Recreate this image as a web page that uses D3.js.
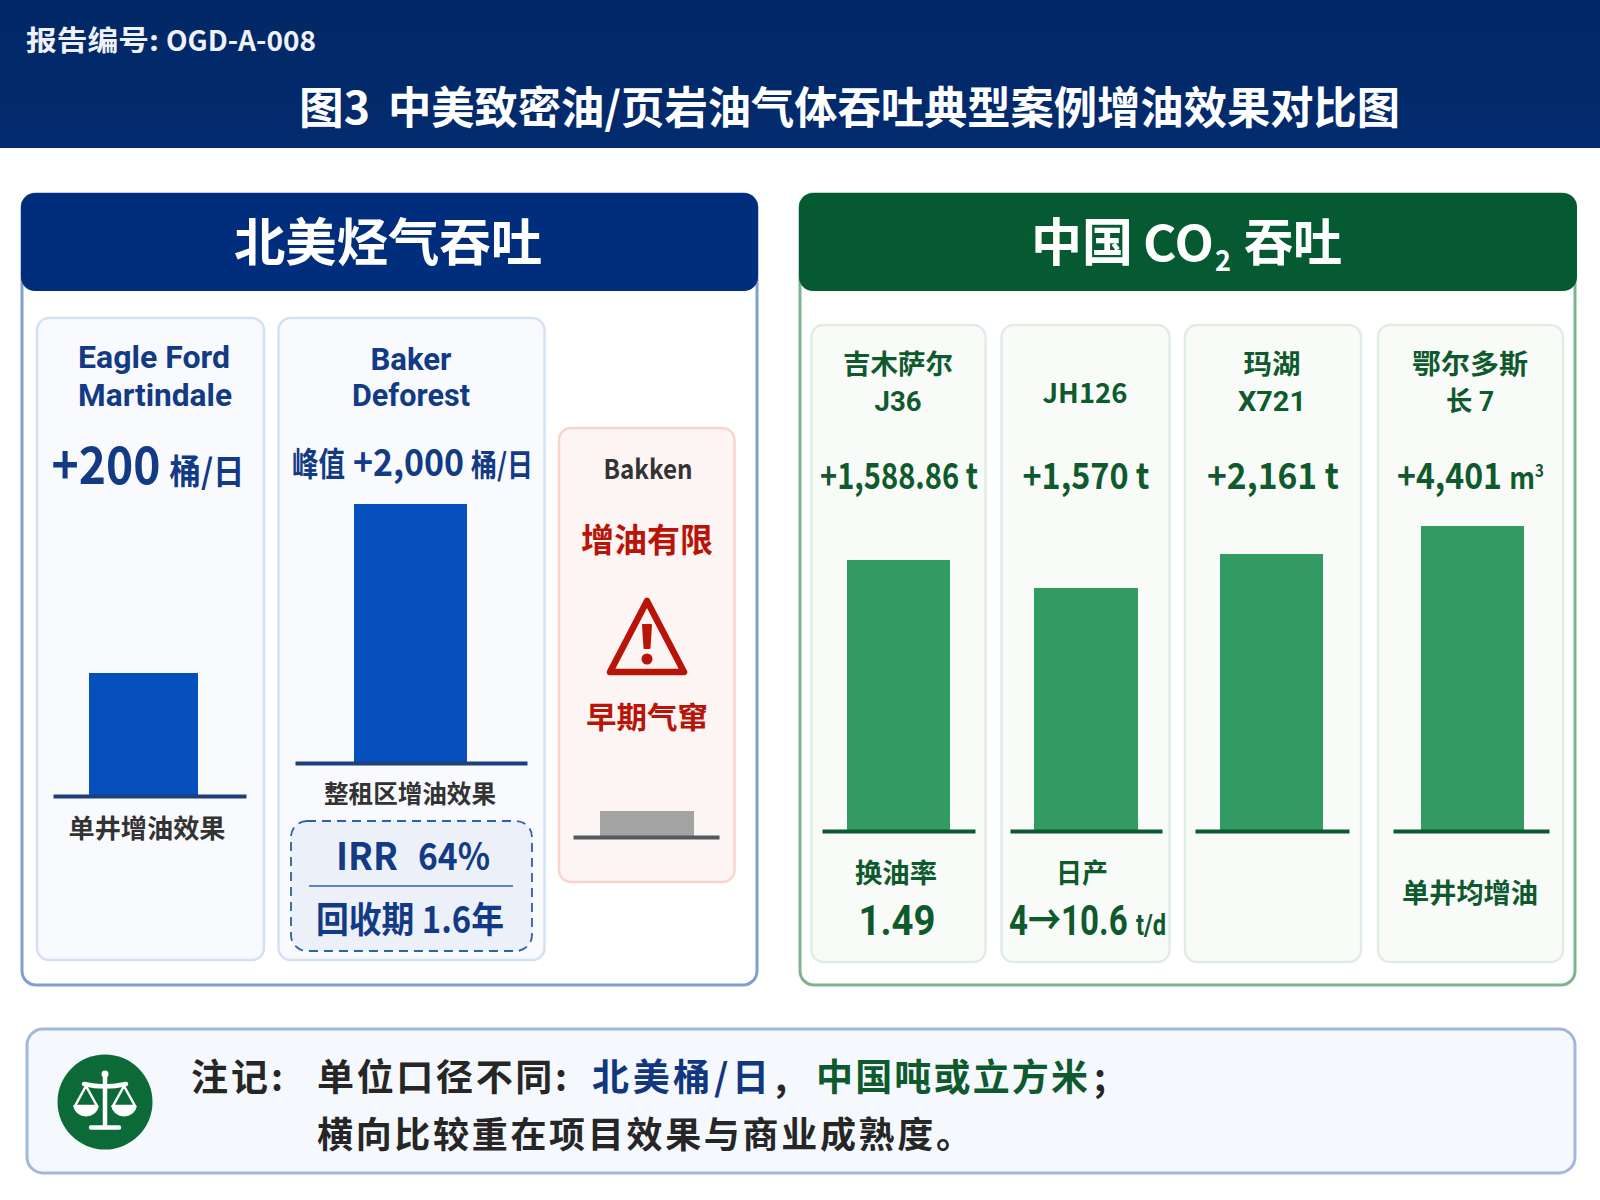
<!DOCTYPE html>
<html><head><meta charset="utf-8">
<script src="https://cdn.jsdelivr.net/npm/d3@7/dist/d3.min.js"></script>
<style>html,body{margin:0;padding:0;background:#fff}svg{display:block}text{font-family:"Noto Sans CJK SC","Noto Sans",sans-serif;font-weight:700}text.tight{font-family:Roboto,"Noto Sans CJK SC",sans-serif}</style>
</head><body><svg id="c" width="1600" height="1200"></svg>
<script>
// ---- data ----
const reportNo = ["报告编号:", "OGD-A-008"];
const chartTitle = ["图3", "中美致密油/页岩油气体吞吐典型案例增油效果对比图"];
const naCases = ["Eagle Ford Martindale", "Baker Deforest", "Bakken"];
const naLevels = [123, 259, 26];            // schematic bar heights
const cnCases = ["吉木萨尔 J36", "JH126", "玛湖 X721", "鄂尔多斯 长 7"];
const cnLevels = [271, 243, 277, 305];      // schematic bar heights
const cnValues = ["+1,588.86 t", "+1,570 t", "+2,161 t", "+4,401"];
const cnNotes = ["换油率", "日产", "", "单井均增油"];

// ---- layout (frames only) ----
const naFrames = [
 {card:[37,318,227,642],bar:[89,198],axis:[53,246],base:796,fill:"#0550bc",ax:"#1d3f7c"},
 {card:[278.5,318,266,642],bar:[354,467],axis:[295,527],base:763,fill:"#0550bc",ax:"#1d3f7c"},
 {card:[559,428,175.5,454],bar:[600,694],axis:[573,719],base:837,fill:"#a3a3a3",ax:"#555a5e"}];
const cnFrames = [
 {card:[811.5,325,174,637],bar:[847,950],axis:[822,975],base:831},
 {card:[1001.5,325,168,637],bar:[1034,1138],axis:[1010,1162],base:831},
 {card:[1185,325,176,637],bar:[1220,1323],axis:[1195,1349],base:831},
 {card:[1378,325,185,637],bar:[1421,1524],axis:[1393,1549],base:831}];

const svg = d3.select("#c");
const defs = svg.append("defs");
const lg = (id,a,b)=>{const g=defs.append("linearGradient").attr("id",id).attr("x1",0).attr("x2",0).attr("y1",0).attr("y2",1);
  g.append("stop").attr("offset",0).attr("stop-color",a);g.append("stop").attr("offset",1).attr("stop-color",b);};
lg("hd","#012766","#032c6e");
function T(g,x,y,s,size,fill,o={}){
  const e=g.append("text").attr("x",x).attr("y",y).attr("font-size",size).attr("fill",fill)
    .attr("text-anchor",o.a||"middle").text(s);
  if(o.tight) e.attr("class","tight");
  if(o.w){e.attr("textLength",o.w).attr("lengthAdjust",o.sp?"spacing":"spacingAndGlyphs");}
  return e;
}
function box(g,x,y,w,h,r,fill,stroke,sw){return g.append("rect").attr("x",x).attr("y",y).attr("width",w).attr("height",h).attr("rx",r).attr("fill",fill).attr("stroke",stroke||"none").attr("stroke-width",sw||0);}

svg.append("rect").attr("width",1600).attr("height",1200).attr("fill","#fff");
// header
svg.append("rect").attr("width",1600).attr("height",148).attr("fill","url(#hd)");
T(svg,26,51,reportNo[0],28,"#eef2f8",{a:"start",w:133});
T(svg,166,51,reportNo[1],28,"#eef2f8",{a:"start",w:150});
T(svg,299,124,chartTitle[0],44,"#fff",{a:"start",w:71});
T(svg,388,124,chartTitle[1],44,"#fff",{a:"start",w:1012});

// panels
box(svg,22,194,735,791,14,"#fff","#7f9fd2",3);
box(svg,800,194,775,791,14,"#fff","#7fb390",3);
box(svg,21,193,737,98,14,"#012e7c");
box(svg,799,193,778,98,14,"#055a31");
T(svg,388,261,"北美烃气吞吐",51,"#fff",{w:308});
const cnHead=svg.append("g");
T(cnHead,1031,261,"中国",51,"#fff",{a:"start",w:102});
T(cnHead,1143,261,"CO",48,"#fff",{a:"start",w:71});
T(cnHead,1215,271,"2",29,"#fff",{a:"start",w:16});
T(cnHead,1244,261,"吞吐",51,"#fff",{a:"start",w:98});

function miniChart(g,name,level,f,maxLevel){
  const h=320;
  const x=d3.scaleBand().domain([name]).range(f.bar).padding(0);
  const y=d3.scaleLinear().domain([0,maxLevel]).range([f.base,f.base-h]);
  g.append("rect").datum(level).attr("x",x(name)).attr("width",x.bandwidth())
    .attr("y",d=>y(d)).attr("height",d=>y(0)-y(d)).attr("fill",f.fill);
  const ax=g.append("g").attr("transform",`translate(0,${f.base})`)
    .call(d3.axisBottom(d3.scaleLinear().domain(f.axis).range(f.axis)).tickValues([]).tickSizeOuter(0));
  ax.select(".domain").attr("stroke",f.ax).attr("stroke-width",4);
}

// north america cards
const na=svg.append("g");
naFrames.forEach((f,i)=>{
  const [x,y,w,h]=f.card;
  if(i<2) box(na,x,y,w,h,12,"#f8fafd","#d3e1f4",2.5);
  else box(na,x,y,w,h,12,"#fdf5f3","#f7d4ce",2.5);
  miniChart(na,naCases[i],naLevels[i],f,320);
});
const navy="#123a85";
T(na,154,368,"Eagle Ford",31,navy,{w:152,tight:1});
T(na,155,406,"Martindale",31,navy,{w:154,tight:1});
T(na,411,370,"Baker",31,navy,{w:81,tight:1});
T(na,411,406,"Deforest",31,navy,{w:118,tight:1});
T(na,106,484,"+200",52,navy,{w:109});
T(na,207,484,"桶/日",34,navy,{w:75});
T(na,292,476,"峰值",33,navy,{a:"start",w:53});
T(na,353,476,"+2,000",37,navy,{a:"start",w:111});
T(na,471,476,"桶/日",31,navy,{a:"start",w:62});
T(na,147,838,"单井增油效果",26,"#333",{w:157});
T(na,410,803,"整租区增油效果",24.5,"#333",{w:172});
box(na,291,821,241,130,16,"#ecf1f9","#2f5fa8",1.8).attr("stroke-dasharray","9 6");
na.append("line").attr("x1",309).attr("x2",513).attr("y1",886).attr("y2",886).attr("stroke","#5b86c4").attr("stroke-width",1.8);
T(na,336,870,"IRR",38,navy,{a:"start",w:62});
T(na,418,870,"64%",38,navy,{a:"start",w:72});
T(na,410,933,"回收期 1.6年",36,navy,{w:188});
T(na,648,479,"Bakken",27,"#333",{w:89});
T(na,647,552,"增油有限",33,"#b81408",{w:132});
T(na,647,728,"早期气窜",30,"#b81408",{w:122});
// warning icon
const w=na.append("g").attr("transform","translate(647,0)");
w.append("path").attr("d","M0,601 L37,672 L-37,672 Z").attr("fill","none").attr("stroke","#b81408").attr("stroke-width",6.5).attr("stroke-linejoin","round");
w.append("path").attr("d","M-4,625 L4,625 L2.5,648 L-2.5,648 Z").attr("fill","#b81408").attr("stroke","#b81408").attr("stroke-width",2).attr("stroke-linejoin","round");
w.append("circle").attr("cy",659).attr("r",5.5).attr("fill","#b81408");

// china cards
const cn=svg.append("g");
cnFrames.forEach((f,i)=>{
  const [x,y,w,h]=f.card;
  box(cn,x,y,w,h,12,"#f9fbf8","#e0ede3",2.5);
  miniChart(cn,cnCases[i],cnLevels[i],{...f,fill:"#329a63",ax:"#0b5a30"},320);
});
const gr="#0e5a2d";
T(cn,898,374,"吉木萨尔",27,gr,{w:110,tight:1});
T(cn,898,411,"J36",27,gr,{w:47,tight:1});
T(cn,1085,403,"JH126",27,gr,{w:85});
T(cn,1272,374,"玛湖",27,gr,{w:57,tight:1});
T(cn,1272,411,"X721",27,gr,{w:68,tight:1});
T(cn,1470,374,"鄂尔多斯",27,gr,{w:116,tight:1});
T(cn,1470,411,"长 7",27,gr,{w:48,tight:1});
const vw=[158,127,132];
[899,1086,1273].forEach((cx,i)=>T(cn,cx,489,cnValues[i],36,gr,{w:vw[i]}));
// value with its unit kept in one text
const v4=T(cn,1397,489,cnValues[3]+" ",36,gr,{a:"start",w:147});
v4.append("tspan").attr("font-size",30).text("m");
v4.append("tspan").attr("font-size",17).attr("dy",-12).text("3");
T(cn,896,883,cnNotes[0],27,gr,{w:82});
T(cn,897,935,"1.49",42,gr,{w:77,tight:1});
T(cn,1082,883,cnNotes[1],27,gr,{w:52});
const v2=T(cn,1009,935,"4→10.6 ",42,gr,{a:"start",w:157,tight:1});
v2.append("tspan").attr("font-size",30).text("t/d");
T(cn,1470,903,cnNotes[3],27,gr,{w:136});

// note bar
const nb=svg.append("g");
box(nb,27,1029,1548,144,16,"#f5f8fd","#a3b7da",3);
nb.append("circle").attr("cx",105).attr("cy",1102).attr("r",47.5).attr("fill","#0b6a38");
const sc=nb.append("g").attr("stroke","#fff").attr("fill","none").attr("stroke-linecap","round");
sc.append("path").attr("d","M105,1075 L105,1125 M91,1127.5 L119,1127.5 M84,1084 Q105,1089 126,1084").attr("stroke-width",4.5);
sc.append("path").attr("d","M86,1086 L75,1106 L97,1106 Z M124,1086 L113,1106 L135,1106 Z").attr("stroke-width",2.5);
sc.append("path").attr("d","M74,1106 L98,1106 A12,10 0 0 1 74,1106 Z M112,1106 L136,1106 A12,10 0 0 1 112,1106 Z").attr("fill","#fff").attr("stroke-width",1);
nb.append("circle").attr("cx",105).attr("cy",1074).attr("r",3.5).attr("fill","#fff");
const ink="#262626";
T(nb,191,1091,"注记:",37,ink,{a:"start",w:92,sp:1});
T(nb,317,1091,"单位口径不同:",37,ink,{a:"start",w:250,sp:1});
T(nb,592,1091,"北美桶/日",37,"#12377f",{a:"start",w:177,sp:1});
T(nb,775,1091,",",37,ink,{a:"start"});
T(nb,816,1091,"中国吨或立方米",37,gr,{a:"start",w:272,sp:1});
T(nb,1094,1091,";",37,ink,{a:"start"});
T(nb,317,1148,"横向比较重在项目效果与商业成熟度。",36,ink,{a:"start",w:655,sp:1});
</script></body></html>
